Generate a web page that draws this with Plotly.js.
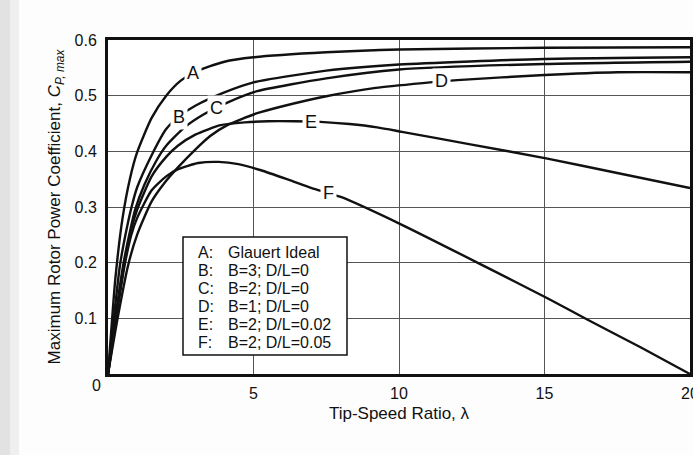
<!DOCTYPE html>
<html>
<head>
<meta charset="utf-8">
<script src="https://cdn.plot.ly/plotly-3.0.1.min.js"></script>
<style>html,body{margin:0;padding:0;background:#fdfdfd;}#chart{width:693px;height:455px;}</style>
</head>
<body>
<div id="chart"></div>
<script>
// ---- data ----
const seriesKeys = ['A', 'B', 'C', 'D', 'E', 'F'];
const seriesDesc = ['Glauert Ideal', 'B=3; D/L=0', 'B=2; D/L=0', 'B=1; D/L=0', 'B=2; D/L=0.02', 'B=2; D/L=0.05'];

const lamA = [0, 0.1, 0.25, 0.5, 0.75, 1.0, 1.5, 2.0, 2.5, 3.0, 4.0, 5.0, 7.5, 10, 15, 20];
const cpA  = [0, 0.07, 0.17, 0.28, 0.35, 0.398, 0.46, 0.50, 0.527, 0.543, 0.561, 0.569, 0.578, 0.583, 0.586, 0.587];

const lamB = [0, 0.2, 0.41, 0.6, 0.81, 1.0, 1.5, 2.0, 2.5, 3.0, 4.0, 5.0, 7.5, 10, 15, 20];
const cpB  = [0, 0.10, 0.195, 0.25, 0.30, 0.335, 0.393, 0.44, 0.465, 0.482, 0.506, 0.524, 0.545, 0.556, 0.566, 0.569];

const lamC = [0, 0.25, 0.52, 0.75, 0.93, 1.25, 1.67, 2.0, 2.63, 3.31, 4.16, 5.12, 7.5, 10, 15, 20];
const cpC  = [0, 0.10, 0.195, 0.255, 0.295, 0.34, 0.384, 0.41, 0.443, 0.467, 0.489, 0.508, 0.531, 0.547, 0.557, 0.561];

const lamD = [0, 0.33, 0.69, 1.0, 1.5, 2.0, 2.42, 3.0, 3.5, 4.1, 5.1, 6.0, 7.5, 9.2, 10.9, 12.0, 15.0, 17.5, 20];
const cpD  = [0, 0.10, 0.195, 0.25, 0.31, 0.347, 0.372, 0.403, 0.427, 0.447, 0.468, 0.481, 0.499, 0.514, 0.523, 0.528, 0.537, 0.542, 0.542];

const lamE = [0, 0.27, 0.55, 0.8, 1.0, 1.5, 2.0, 2.4, 3.0, 3.87, 4.7, 5.5, 6.4, 7.3, 8.3, 9.25, 10.1, 12.5, 15.1, 17.5, 20];
const cpE  = [0, 0.10, 0.195, 0.26, 0.295, 0.355, 0.39, 0.41, 0.43, 0.447, 0.452, 0.454, 0.454, 0.453, 0.449, 0.443, 0.435, 0.412, 0.387, 0.361, 0.334];

const lamF = [0, 0.28, 0.57, 0.8, 1.0, 1.5, 2.0, 2.41, 3.1, 3.8, 4.48, 5.26, 6.2, 7.0, 8.0, 10.1, 13.0, 15.1, 16.5, 18.3, 20];
const cpF  = [0, 0.10, 0.195, 0.25, 0.28, 0.33, 0.355, 0.368, 0.379, 0.381, 0.377, 0.366, 0.349, 0.334, 0.318, 0.268, 0.192, 0.136, 0.097, 0.048, 0];

const labelLambda = [2.92, 2.43, 3.73, 11.45, 6.96, 7.58];

const xTicks = [5, 10, 15, 20];
const yTicks = [0.1, 0.2, 0.3, 0.4, 0.5, 0.6];

// ---- build ----
const lams = [lamA, lamB, lamC, lamD, lamE, lamF];
const cps = [cpA, cpB, cpC, cpD, cpE, cpF];

function interp(xs, ys, x) {
  for (let i = 1; i < xs.length; i++) {
    if (x <= xs[i]) {
      const t = (x - xs[i - 1]) / (xs[i] - xs[i - 1]);
      return ys[i - 1] + t * (ys[i] - ys[i - 1]);
    }
  }
  return ys[ys.length - 1];
}

const FONT = '"Liberation Sans", Arial, Helvetica, sans-serif';
const INK = '#111';

const traces = seriesKeys.map((k, i) => ({
  x: lams[i], y: cps[i], name: k, type: 'scatter', mode: 'lines',
  line: { color: INK, width: 2.4, shape: 'spline', smoothing: 0.6 },
  hoverinfo: 'skip'
}));

// plot geometry (pixels)
const L = 108, R = 3, T = 40, B = 81, W = 693, H = 455;
const PW = W - L - R, PH = H - T - B;
const px = v => (v - L) / PW;
const py = v => (H - B - v) / PH;

const annotations = [];
// curve labels on the curves
seriesKeys.forEach((k, i) => {
  annotations.push({
    x: labelLambda[i], y: interp(lams[i], cps[i], labelLambda[i]),
    xref: 'x', yref: 'y', xanchor: 'center', yanchor: 'middle', text: k, showarrow: false,
    font: { family: FONT, size: 18, color: INK },
    bgcolor: 'white', borderpad: 2
  });
});
// key box text
seriesKeys.forEach((k, i) => {
  const yy = py(252 + 18 * i);
  annotations.push({ x: px(196), y: yy, xref: 'paper', yref: 'paper', xanchor: 'left', yanchor: 'middle',
    text: k + ':', showarrow: false, font: { family: FONT, size: 16, color: INK } });
  annotations.push({ x: px(226), y: yy, xref: 'paper', yref: 'paper', xanchor: 'left', yanchor: 'middle',
    text: seriesDesc[i], showarrow: false, font: { family: FONT, size: 16, color: INK } });
});
// shared origin label
annotations.push({ x: px(96), y: py(385), xref: 'paper', yref: 'paper', xanchor: 'center', yanchor: 'middle',
  text: '0', showarrow: false, font: { family: FONT, size: 16, color: INK } });

const shapes = [
  { type: 'rect', xref: 'paper', yref: 'paper', x0: px(183), x1: px(347), y0: py(355), y1: py(237),
    fillcolor: 'white', line: { color: INK, width: 1.5 }, layer: 'above' },
  { type: 'rect', xref: 'paper', yref: 'paper', x0: px(0), x1: px(10), y0: py(H), y1: py(0),
    fillcolor: '#e2e2e2', line: { width: 0 }, layer: 'below' },
  { type: 'rect', xref: 'paper', yref: 'paper', x0: px(10), x1: px(19), y0: py(H), y1: py(0),
    fillcolor: '#efefef', line: { width: 0 }, layer: 'below' }
];

const layout = {
  width: W, height: H,
  margin: { l: L, r: R, t: T, b: B, pad: 0 },
  paper_bgcolor: '#fdfdfd', plot_bgcolor: 'white',
  showlegend: false,
  font: { family: FONT, color: INK },
  xaxis: {
    range: [0, 20], tickvals: xTicks, ticks: '', showgrid: true, gridcolor: '#555', gridwidth: 1,
    zeroline: false, showline: true, mirror: true, linecolor: INK, linewidth: 3,
    tickfont: { family: FONT, size: 16, color: INK }, ticklabelstandoff: 3, ticklabeloverflow: 'allow',
    title: { text: 'Tip-Speed Ratio, λ', font: { family: FONT, size: 17, color: INK }, standoff: 6 }
  },
  yaxis: {
    range: [0, 0.6], tickvals: yTicks, ticks: '', showgrid: true, gridcolor: '#555', gridwidth: 1,
    zeroline: false, showline: true, mirror: true, linecolor: INK, linewidth: 3,
    tickfont: { family: FONT, size: 16, color: INK }, ticklabelstandoff: 5, ticklabeloverflow: 'allow',
    title: { text: 'Maximum Rotor Power Coefficient, <i>C</i><sub><i>P, max</i></sub>', font: { family: FONT, size: 17, color: INK }, standoff: 10 }
  },
  annotations: annotations,
  shapes: shapes
};

Plotly.newPlot('chart', traces, layout, { displayModeBar: false, staticPlot: true });
</script>
</body>
</html>
